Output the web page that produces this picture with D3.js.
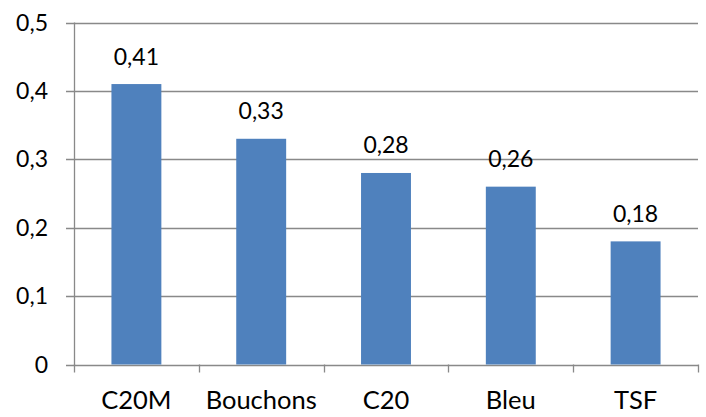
<!DOCTYPE html>
<meta charset="utf-8">
<style>
body { margin: 0; background: #fff; }
text { font-family: Lato, "Open Sans", sans-serif; fill: #000; }
.num { font-size: 23px; }
.cat { font-size: 25.5px; }
</style>
<svg width="706" height="417"></svg>
<script src="https://cdn.jsdelivr.net/npm/d3@7/dist/d3.min.js"></script>
<script>
var categories = ["C20M", "Bouchons", "C20", "Bleu", "TSF"];
var values = [0.41, 0.33, 0.28, 0.26, 0.18];
var yTicks = [0, 0.1, 0.2, 0.3, 0.4, 0.5];

var svg = d3.select("svg");
var mLeft = 74, mRight = 698, mTop = 22.5, mBottom = 364.5;

var fr = d3.formatLocale({decimal: ",", thousands: " ", grouping: [3], currency: ["", "€"]});
var fmt = function(v) { return v === 0 ? "0" : fr.format(".1f")(v); };
var fmtVal = fr.format(".2f");

var x = d3.scaleBand().domain(categories).range([mLeft, mRight])
    .paddingInner(0.6).paddingOuter(0.3);
var y = d3.scaleLinear().domain([0, 0.5]).range([mBottom, mTop]);

// grille + graduations gauche
svg.append("g").selectAll("line").data(yTicks).enter().append("line")
    .attr("x1", mLeft - 8).attr("x2", mRight)
    .attr("y1", function(d) { return Math.round(y(d)) + 0.5; })
    .attr("y2", function(d) { return Math.round(y(d)) + 0.5; })
    .attr("stroke", "#898989").attr("stroke-width", 1.3);

svg.append("g").selectAll("text").data(yTicks).enter().append("text")
    .attr("class", "num")
    .attr("x", mLeft - 26).attr("y", function(d) { return y(d); })
    .attr("dy", "0.35em").attr("text-anchor", "end")
    .text(fmt);

// barres
svg.append("g").selectAll("rect").data(values).enter().append("rect")
    .attr("x", function(d, i) { return x(categories[i]); })
    .attr("width", x.bandwidth())
    .attr("y", function(d) { return y(d); })
    .attr("height", function(d) { return y(0) - y(d); })
    .attr("fill", "#4f81bd");

// axe vertical
svg.append("line").attr("x1", mLeft + 0.5).attr("x2", mLeft + 0.5)
    .attr("y1", mTop).attr("y2", mBottom + 0.5)
    .attr("stroke", "#898989").attr("stroke-width", 1.3);

// graduations du bas
var step = x.step();
var bounds = d3.range(categories.length + 1).map(function(i) { return mLeft + i * step; });
svg.append("g").selectAll("line").data(bounds).enter().append("line")
    .attr("x1", function(d) { return Math.round(d) + 0.5; })
    .attr("x2", function(d) { return Math.round(d) + 0.5; })
    .attr("y1", mBottom).attr("y2", mBottom + 8)
    .attr("stroke", "#898989").attr("stroke-width", 1.3);

svg.append("g").selectAll("text").data(categories).enter().append("text")
    .attr("class", "cat")
    .attr("x", function(d) { return x(d) + x.bandwidth() / 2; })
    .attr("y", 409).attr("text-anchor", "middle")
    .text(function(d) { return d; });

// étiquettes de valeurs
svg.append("g").selectAll("text").data(values).enter().append("text")
    .attr("class", "num")
    .attr("x", function(d, i) { return x(categories[i]) + x.bandwidth() / 2; })
    .attr("y", function(d) { return y(d) - 19.5; })
    .attr("text-anchor", "middle")
    .text(fmtVal);
</script>
